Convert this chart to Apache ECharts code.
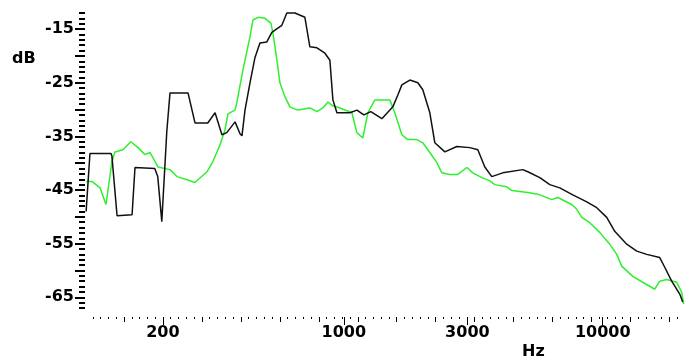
<!DOCTYPE html>
<html>
<head>
<meta charset="utf-8">
<script src="https://cdn.jsdelivr.net/npm/echarts@6/dist/echarts.min.js"></script>
<style>
  html, body { margin: 0; padding: 0; background: #fff; }
  #chart { width: 685px; height: 358px; }
</style>
</head>
<body>
<div id="chart"></div>
<script>
// black trace
const blackHz = [101, 104.5, 126, 127, 133, 152, 156, 186, 191, 198, 207, 213, 250, 266, 298, 318, 338, 353, 380, 397,
  404, 415, 434, 453, 474, 504, 527, 556, 576, 602, 647, 707, 739, 787, 845, 883, 907, 940, 1055, 1123,
  1194, 1271, 1402, 1546, 1616, 1675, 1798, 1931, 2018, 2148, 2246, 2455, 2731, 3066, 3292, 3503, 3727, 4111, 4911, 5134,
  5713, 6243, 6823, 7660, 8676, 9480, 10361, 11125, 12378, 13530, 14789, 16601, 17357, 18466, 19836, 20370]
const blackDb = [-49.0, -38.2, -38.2, -38.6, -49.8, -49.6, -40.8, -41.0, -42.5, -50.9, -34.1, -26.9, -26.9, -32.5, -32.5, -30.6, -34.7, -34.3, -32.3, -34.5,
  -34.9, -30.1, -25.0, -20.4, -17.6, -17.4, -15.6, -14.8, -14.3, -12.0, -12.0, -12.8, -18.3, -18.5, -19.5, -20.8, -28.2, -30.6, -30.6, -30.1,
  -31.0, -30.4, -31.7, -29.5, -27.3, -25.4, -24.5, -25.0, -26.3, -30.6, -36.2, -37.9, -36.9, -37.1, -37.5, -40.7, -42.5, -41.8, -41.2, -41.6,
  -42.7, -44.0, -44.6, -45.9, -47.2, -48.3, -50.1, -52.7, -55.1, -56.4, -57.0, -57.6, -59.4, -62.0, -64.4, -65.9]

// green trace
const greenHz = [101, 106.4, 114.3, 120.5, 127.1, 130.5, 140.2, 150.5, 160.2, 170.4, 178.2, 191.3, 212.9, 226.6, 247.7, 265.9, 295.8, 312, 332.1, 347.2,
  356.6, 379.6, 386.4, 407.4, 433.7, 445.4, 465.6, 495.5, 522.5, 532, 551.3, 566.2, 591.8, 618.7, 664.5, 739.4, 786.8, 829.8, 867.6, 907,
  965.1, 1074, 1123, 1184, 1238, 1317, 1505, 1573, 1675, 1766, 1914, 2018, 2148, 2287, 2390, 2566, 2755, 2985, 3148, 3411,
  3662, 3828, 4259, 4453, 5225, 5713, 6356, 6704, 7592, 7937, 8298, 8906, 9737, 10641, 11324, 11842, 13058, 14272, 15878, 16601,
  17665, 19311, 20184, 20540]
const greenDb = [-43.4, -43.4, -44.6, -47.7, -39.7, -37.9, -37.5, -36.0, -37.1, -38.4, -38.0, -40.7, -41.2, -42.5, -43.1, -43.6, -41.6, -39.7, -36.6, -33.8,
  -30.8, -30.1, -28.6, -22.6, -16.5, -13.3, -12.8, -13.0, -13.9, -15.7, -20.8, -25.0, -27.6, -29.5, -30.1, -29.7, -30.4, -29.7, -28.6, -29.3,
  -29.7, -30.6, -34.3, -35.3, -30.6, -28.2, -28.2, -30.6, -34.7, -35.6, -35.6, -36.2, -38.0, -39.9, -41.8, -42.1, -42.1, -40.8, -41.8, -42.7,
  -43.3, -44.0, -44.4, -45.1, -45.5, -45.9, -46.8, -46.4, -47.7, -48.6, -50.1, -51.1, -52.9, -55.1, -57.0, -59.2, -61.1, -62.2, -63.5, -62.0,
  -61.7, -62.2, -64.1, -66.3]

const xLabelHz = [200, 1000, 3000, 10000]
const yLabelDb = [-65, -55, -45, -35, -25, -15]
const yMajorDb = [-65, -60, -55, -50, -45, -40, -35, -30, -25, -20, -15]

const lg = v => Math.log10(v)
const toPoints = (hz, db) => hz.map((f, i) => [lg(f), db[i]])

// small ticks every tenth of an octave, a bit longer every half octave
const fineTicks = []
for (let k = 1; k <= 76; k++) fineTicks.push(lg(100 * Math.pow(2, k / 10)))
const halfOctTicks = fineTicks.filter((v, i) => (i + 1) % 5 === 0)

const font = { fontFamily: 'DejaVu Sans', fontWeight: 'bold', fontSize: 16, color: '#000' }
const tickLine = { color: '#000', width: 1 }

const xBase = {
  type: 'value', min: lg(100), max: lg(20600), position: 'bottom', offset: 9,
  axisLine: { show: false }, splitLine: { show: false },
  axisLabel: { show: false }, axisTick: { show: false }
}
const yBase = {
  type: 'value', min: -67, max: -12, position: 'left',
  axisLine: { show: false }, splitLine: { show: false },
  axisLabel: { show: false }, axisTick: { show: false }
}

const chart = echarts.init(document.getElementById('chart'))
chart.setOption({
  animation: false,
  backgroundColor: '#fff',
  grid: { left: 85, right: 1, top: 13, bottom: 50 },
  xAxis: [
    Object.assign({}, xBase, {
      axisLabel: Object.assign({ show: true, customValues: xLabelHz.map(lg), margin: 8,
        formatter: v => String(Math.round(Math.pow(10, v))) }, font),
      axisTick: { show: true, customValues: xLabelHz.map(lg), length: 8, lineStyle: tickLine }
    }),
    Object.assign({}, xBase, {
      axisTick: { show: true, customValues: halfOctTicks, length: 5, lineStyle: tickLine }
    }),
    Object.assign({}, xBase, {
      axisTick: { show: true, customValues: fineTicks, length: 2, lineStyle: tickLine }
    })
  ],
  yAxis: [
    Object.assign({}, yBase, {
      axisLabel: Object.assign({ show: true, customValues: yLabelDb, margin: 11 }, font),
      axisTick: { show: true, customValues: yMajorDb, length: 10, lineStyle: { color: '#000', width: 2 } }
    }),
    Object.assign({}, yBase, {
      interval: 1,
      axisTick: { show: true, length: 6, lineStyle: { color: '#000', width: 2 } }
    })
  ],
  graphic: [
    { type: 'text', left: 12, top: 51, style: { text: 'dB', font: 'bold 16px "DejaVu Sans"', fill: '#000' } },
    { type: 'text', left: 522, top: 344, style: { text: 'Hz', font: 'bold 16px "DejaVu Sans"', fill: '#000' } }
  ],
  series: [
    {
      type: 'line', name: 'green', xAxisIndex: 0, yAxisIndex: 0,
      data: toPoints(greenHz, greenDb),
      showSymbol: false, clip: false,
      lineStyle: { color: '#2ef02e', width: 1.5 }
    },
    {
      type: 'line', name: 'black', xAxisIndex: 0, yAxisIndex: 0,
      data: toPoints(blackHz, blackDb),
      showSymbol: false, clip: false,
      lineStyle: { color: '#111', width: 1.5 }
    }
  ]
})
</script>
</body>
</html>
